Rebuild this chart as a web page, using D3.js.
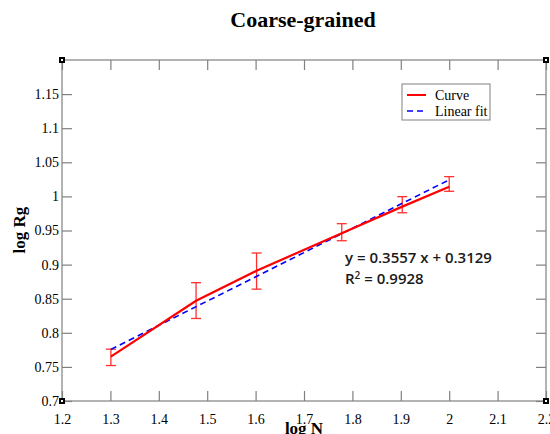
<!DOCTYPE html>
<html>
<head>
<meta charset="utf-8">
<script src="https://cdn.jsdelivr.net/npm/d3@7"></script>
<style>
  html, body { margin: 0; padding: 0; background: #fff; }
  svg { display: block; }
</style>
</head>
<body>
<svg id="chart" width="550" height="434"></svg>
<script>
// log N for chain lengths 20, 30, 40, 60, 80, 100
const logN = [1.301, 1.477, 1.602, 1.778, 1.903, 2.0];
// mean log Rg and its error-bar limits
const logRg = [0.765, 0.847, 0.891, 0.946, 0.985, 1.014];
const errLow = [0.752, 0.821, 0.864, 0.935, 0.976, 1.0075];
const errHigh = [0.776, 0.8735, 0.917, 0.960, 0.9996, 1.029];
// linear fit y = a x + b
const fitSlope = 0.3557;
const fitIntercept = 0.3129;
const fitText = "y = 0.3557 x + 0.3129";
const r2Value = "0.9928";
const xTicks = [1.2, 1.3, 1.4, 1.5, 1.6, 1.7, 1.8, 1.9, 2.0, 2.1, 2.2];
const yTicks = [0.7, 0.75, 0.8, 0.85, 0.9, 0.95, 1.0, 1.05, 1.1, 1.15];

const svg = d3.select("#chart");
const plotL = 62, plotR = 546, plotT = 60, plotB = 401;

const x = d3.scaleLinear().domain([1.2, 2.2]).range([plotL, plotR]);
const y = d3.scaleLinear().domain([0.7, 1.2]).range([plotB, plotT]);

const serif = "'Liberation Serif', 'Times New Roman', serif";
const frameColor = "#808080";
const fmt = d => String(+d.toFixed(2));

// frame and inward ticks
const g = svg.append("g");
g.append("rect").attr("x", plotL).attr("y", plotT)
  .attr("width", plotR - plotL).attr("height", plotB - plotT)
  .attr("fill", "none").attr("stroke", frameColor).attr("stroke-width", 1.2);

const axBottom = d3.axisBottom(x).tickValues(xTicks).tickSizeInner(-10).tickSizeOuter(0)
  .tickPadding(13).tickFormat(fmt);
const axTop = d3.axisTop(x).tickValues(xTicks).tickSizeInner(-10).tickSizeOuter(0).tickFormat("");
const axLeft = d3.axisLeft(y).tickValues(yTicks).tickSizeInner(-10).tickSizeOuter(0)
  .tickPadding(13).tickFormat(fmt);
const axRight = d3.axisRight(y).tickValues(yTicks).tickSizeInner(-10).tickSizeOuter(0).tickFormat("");

function styleAxis(sel) {
  sel.select(".domain").remove();
  sel.selectAll(".tick line").attr("stroke", frameColor).attr("stroke-width", 1.2);
  sel.selectAll(".tick text").attr("fill", "#000")
    .style("font-family", serif).style("font-size", "14px");
}
g.append("g").attr("transform", `translate(0,${plotB})`).call(axBottom).call(styleAxis);
g.append("g").attr("transform", `translate(0,${plotT})`).call(axTop).call(styleAxis);
g.append("g").attr("transform", `translate(${plotL},0)`).call(axLeft).call(styleAxis)
  .selectAll(".tick text").attr("dx", 10);
g.append("g").attr("transform", `translate(${plotR},0)`).call(axRight).call(styleAxis);

// corner markers
[[plotL, plotT], [plotR, plotT], [plotL, plotB], [plotR, plotB]].forEach(([cx, cy]) => {
  g.append("rect").attr("x", cx - 3).attr("y", cy - 3).attr("width", 6).attr("height", 6)
    .attr("fill", "#000");
  g.append("rect").attr("x", cx - 1).attr("y", cy - 1).attr("width", 2).attr("height", 2)
    .attr("fill", "#fff");
});

// error bars
const eb = svg.append("g").attr("stroke", "#ff3030").attr("stroke-width", 1.3).attr("fill", "none");
logN.forEach((n, i) => {
  const cx = x(n);
  eb.append("line").attr("x1", cx).attr("x2", cx).attr("y1", y(errLow[i])).attr("y2", y(errHigh[i]));
  eb.append("line").attr("x1", cx - 5).attr("x2", cx + 5).attr("y1", y(errLow[i])).attr("y2", y(errLow[i]));
  eb.append("line").attr("x1", cx - 5).attr("x2", cx + 5).attr("y1", y(errHigh[i])).attr("y2", y(errHigh[i]));
});

// fitted line
const fitX = [logN[0], logN[logN.length - 1]];
svg.append("path")
  .datum(fitX.map(v => [v, fitSlope * v + fitIntercept]))
  .attr("d", d3.line().x(d => x(d[0])).y(d => y(d[1])))
  .attr("fill", "none").attr("stroke", "#0000ff").attr("stroke-width", 1.6)
  .attr("stroke-dasharray", "6,4");

// measured curve
svg.append("path")
  .datum(logN.map((n, i) => [n, logRg[i]]))
  .attr("d", d3.line().x(d => x(d[0])).y(d => y(d[1])))
  .attr("fill", "none").attr("stroke", "#ff0000").attr("stroke-width", 2.2);

// legend
const lg = svg.append("g");
lg.append("rect").attr("x", 402).attr("y", 84).attr("width", 88).attr("height", 36)
  .attr("fill", "#fff").attr("stroke", frameColor).attr("stroke-width", 1);
lg.append("line").attr("x1", 407).attr("x2", 426).attr("y1", 95).attr("y2", 95)
  .attr("stroke", "#ff0000").attr("stroke-width", 2);
lg.append("line").attr("x1", 407).attr("x2", 426).attr("y1", 111).attr("y2", 111)
  .attr("stroke", "#0000ff").attr("stroke-width", 1.5).attr("stroke-dasharray", "6,4");
lg.append("text").attr("x", 435).attr("y", 99.5).text("Curve")
  .style("font-family", serif).style("font-size", "14px");
lg.append("text").attr("x", 435).attr("y", 115.5).text("Linear fit")
  .style("font-family", serif).style("font-size", "14px");

// fit annotation
const ann = svg.append("g").style("font-family", "'Open Sans', 'Liberation Sans', sans-serif")
  .style("font-size", "15px").style("font-weight", "600").attr("fill", "#1a1a1a");
ann.append("text").attr("x", 345).attr("y", 263).text(fitText);
const r2 = ann.append("text").attr("x", 345).attr("y", 284);
r2.append("tspan").text("R");
r2.append("tspan").attr("dy", -5).style("font-size", "10px").text("2");
r2.append("tspan").attr("dy", 5).text(" = " + r2Value);

// titles
svg.append("text").attr("x", 303).attr("y", 27).attr("text-anchor", "middle")
  .style("font-family", serif).style("font-size", "22px").style("font-weight", "bold")
  .text("Coarse-grained");
svg.append("text").attr("x", 304).attr("y", 434).attr("text-anchor", "middle")
  .style("font-family", serif).style("font-size", "17px").style("font-weight", "bold")
  .text("log N");
svg.append("text").attr("transform", "translate(25,230) rotate(-90)").attr("text-anchor", "middle")
  .style("font-family", serif).style("font-size", "17px").style("font-weight", "bold")
  .text("log Rg");
</script>
</body>
</html>
